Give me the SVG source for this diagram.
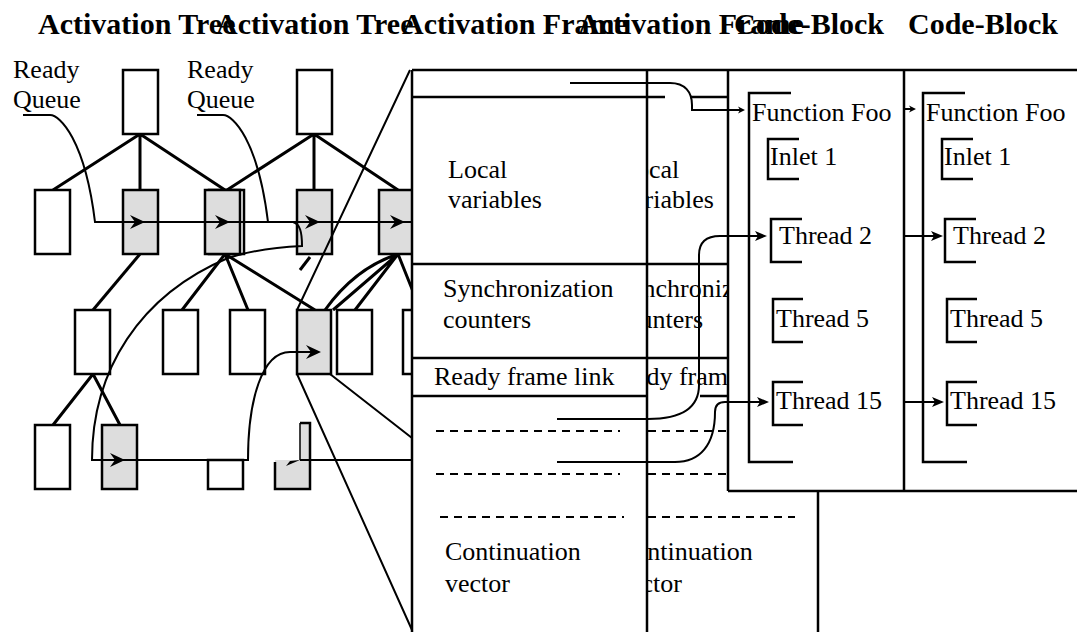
<svg xmlns="http://www.w3.org/2000/svg" width="1077" height="632" viewBox="0 0 1077 632">
  <style>
    .title{font-family:"Liberation Serif","Times New Roman",serif;font-weight:bold;font-size:30px;fill:#000}
    .lbl{font-family:"Liberation Serif","Times New Roman",serif;font-size:26px;fill:#000}
    .box{fill:#fff;stroke:#000;stroke-width:2.5}
    .act{fill:#dddddd;stroke:#000;stroke-width:2.5}
    .edge{stroke:#000;stroke-width:3;fill:none}
    .ptr{stroke:#000;stroke-width:2;fill:none}
    .ln{stroke:#000;stroke-width:2.5;fill:none}
    .dash{stroke:#000;stroke-width:2;stroke-dasharray:8 6;fill:none}
    .blank{fill:#fff;stroke:none}
  </style>
  <defs>
    <path id="ah" d="M0 0 L-15 -7 L-10 0 L-15 7 Z" fill="#000"/>
    <path id="ah2" d="M0 0 L-12 -5 L-9 0 L-12 5 Z" fill="#000"/>
    <path id="ah3" d="M0 0 L-7 -3.5 L-5 0 L-7 3.5 Z" fill="#000"/>
    <clipPath id="clipShadow"><rect x="647" y="70" width="172" height="562"/></clipPath>
    <!-- one code-block listing, reused for both copies -->
    <g id="codeBody">
      <path class="ln" d="M791 93 H749 V462 H793"/>
      <text class="lbl" x="752" y="121">Function Foo</text>
      <path class="ln" d="M799 139 H768 V179 H799"/>
      <text class="lbl" x="770" y="165">Inlet 1</text>
      <path class="ln" d="M802 219 H771 V262 H802"/>
      <text class="lbl" x="779" y="244">Thread 2</text>
      <path class="ln" d="M803 299 H773 V342 H803"/>
      <text class="lbl" x="776" y="327">Thread 5</text>
      <path class="ln" d="M803 382 H773 V425 H803"/>
      <text class="lbl" x="776" y="409">Thread 15</text>
    </g>
    <!-- activation frame field labels -->
    <g id="frameText">
      <text class="lbl" x="448" y="178">Local</text>
      <text class="lbl" x="448" y="208">variables</text>
      <text class="lbl" x="443" y="297">Synchronization</text>
      <text class="lbl" x="443" y="328">counters</text>
      <text class="lbl" x="434" y="385">Ready frame link</text>
      <text class="lbl" x="445" y="560">Continuation</text>
      <text class="lbl" x="445" y="592">vector</text>
    </g>
  </defs>

  <!-- headings -->
  <g id="titles">
    <text class="title" x="38" y="34">Activation Tree</text>
    <text class="title" x="216" y="34">Activation Tree</text>
    <text class="title" x="402" y="34">Activation Frame</text>
    <text class="title" x="578" y="34">Activation Frame</text>
    <text class="title" x="734" y="34">Code-Block</text>
    <text class="title" x="908" y="34">Code-Block</text>
  </g>

  <g id="ready-queue-labels">
    <text class="lbl" x="13" y="78">Ready</text>
    <text class="lbl" x="13" y="108">Queue</text>
    <text class="lbl" x="187" y="78">Ready</text>
    <text class="lbl" x="187" y="108">Queue</text>
  </g>

  <!-- tree edges -->
  <g id="tree-edges">
    <path class="edge" d="M140 134 L53 190 M140 134 V190 M140 134 L225 190"/>
    <path class="edge" d="M314 134 L227 190 M314 134 V190 M314 134 L398 190"/>
    <path class="edge" d="M140 254 L93 310"/>
    <path class="edge" d="M225 254 L182 310 M225 254 L248 310 M225 254 L315 310"/>
    <path class="edge" d="M93 374 L53 425 M93 374 L120 425"/>
    <path class="edge" d="M398 254 L355 310 M398 254 L333 310 M398 254 Q355 268 325 310 M398 254 L414 294"/>
    <path class="edge" d="M310 257 L300 270"/>
  </g>

  <!-- tree frames -->
  <g id="root-a"><rect class="box" x="123" y="70" width="35" height="64"/></g>
  <g id="root-b"><rect class="box" x="297" y="70" width="35" height="64"/></g>

  <g id="n2-1"><rect class="box" x="35" y="190" width="35" height="64"/></g>
  <g id="n2-2"><rect class="act" x="123" y="190" width="35" height="64"/></g>
  <g id="n2-3">
    <rect class="box" x="209" y="190" width="35" height="64"/>
    <rect class="act" x="205" y="190" width="35" height="64"/>
  </g>
  <g id="n2-4"><rect class="act" x="297" y="190" width="35" height="64"/></g>
  <g id="n2-5"><rect class="act" x="379" y="190" width="35" height="64"/></g>

  <g id="n3-1"><rect class="box" x="75" y="310" width="35" height="64"/></g>
  <g id="n3-2"><rect class="box" x="163" y="310" width="35" height="64"/></g>
  <g id="n3-3"><rect class="box" x="230" y="310" width="35" height="64"/></g>
  <g id="n3-4"><rect class="act" x="297" y="310" width="34" height="64"/></g>
  <g id="n3-5"><rect class="box" x="337" y="310" width="35" height="64"/></g>
  <g id="n3-6"><rect class="box" x="403" y="310" width="35" height="64"/></g>

  <g id="n4-1"><rect class="box" x="35" y="425" width="35" height="64"/></g>
  <g id="n4-2"><rect class="act" x="102" y="425" width="35" height="64"/></g>
  <g id="n4-3"><rect class="box" x="208" y="460" width="35" height="29"/></g>
  <g id="n4-4">
    <path d="M275 460 H300 V423 H310 V489 H275 Z" fill="#dddddd"/>
    <path class="ln" d="M275 462 V489 H310 V423 H300"/>
    <path stroke="#000" stroke-width="1.5" d="M300 423 V460"/>
    <path d="M300 460 L286 466 L290 461 Z" fill="#000"/>
  </g>

  <!-- ready queue and frame links -->
  <g id="tree-links">
    <path class="ptr" d="M23 115 H50 C60 115 85 140 95 222 H412"/>
    <use href="#ah" x="145" y="222"/>
    <use href="#ah" x="230" y="222"/>
    <use href="#ah" x="320" y="222"/>
    <use href="#ah" x="405" y="222"/>
    <path class="ptr" d="M197 115 H223 C233 115 258 140 268 222"/>
    <path class="ptr" d="M293 222 C300 224 302 232 302 246 C280 247 250 251 228 258 C140 295 92 370 92 460 H248 C248 400 262 352 290 352 H318"/>
    <use href="#ah" x="125" y="460"/>
    <use href="#ah" x="321" y="352"/>
    <path class="ptr" d="M300 460 H412"/>
    <path class="ptr" d="M410 70 L297 310 M297 374 L412 630 M330 374 L412 438"/>
  </g>

  <!-- enlarged activation frame: rear copy -->
  <g id="frame-rear">
    <rect class="blank" x="412" y="70" width="406" height="570"/>
    <g clip-path="url(#clipShadow)">
      <use href="#frameText" x="172" y="0"/>
    </g>
    <path class="ln" d="M690 97 H728 M647 264 H728 M647 358 H728 M700 396 H728"/>
    <path class="dash" d="M648 431 H728 M648 474 H728 M648 517 H795"/>
    <path class="ln" d="M818 491 V632"/>
  </g>

  <!-- enlarged activation frame: front copy -->
  <g id="frame">
    <rect class="blank" x="412" y="70" width="235" height="570"/>
    <use href="#frameText"/>
    <path class="ln" d="M412 97 H665 M412 264 H647 M412 358 H647 M412 396 H647"/>
    <path class="dash" d="M436 431 H620 M436 474 H620 M440 517 H624"/>
    <path class="ln" d="M412 70 V632 M647 70 V632"/>
  </g>

  <!-- code-block listings -->
  <g id="code-block">
    <rect class="blank" x="728" y="70" width="349" height="421"/>
    <use href="#codeBody" x="174" y="0"/>
    <path class="ptr" d="M904 236 H934 M904 402 H935 M904 109 H912"/>
    <use href="#ah2" x="943" y="236"/>
    <use href="#ah2" x="944" y="402"/>
    <use href="#ah3" x="916" y="109"/>
    <use href="#codeBody"/>
    <path class="ln" d="M412 70 H1077 M728 70 V491 M904 70 V491 M728 491 H1077"/>
  </g>

  <!-- frame to code pointers -->
  <g id="frame-links">
    <path class="ptr" d="M570 83 H670 C685 83 692 92 692 105 V110 H740"/>
    <use href="#ah3" x="745" y="110"/>
    <path class="ptr" d="M557 419 H648 Q699 419 699 385 V255 Q699 236 720 236 H758"/>
    <use href="#ah2" x="767" y="236"/>
    <path class="ptr" d="M557 462 H675 C700 462 715 445 715 412 Q715 402 725 402 H760"/>
    <use href="#ah2" x="769" y="402"/>
  </g>
</svg>
